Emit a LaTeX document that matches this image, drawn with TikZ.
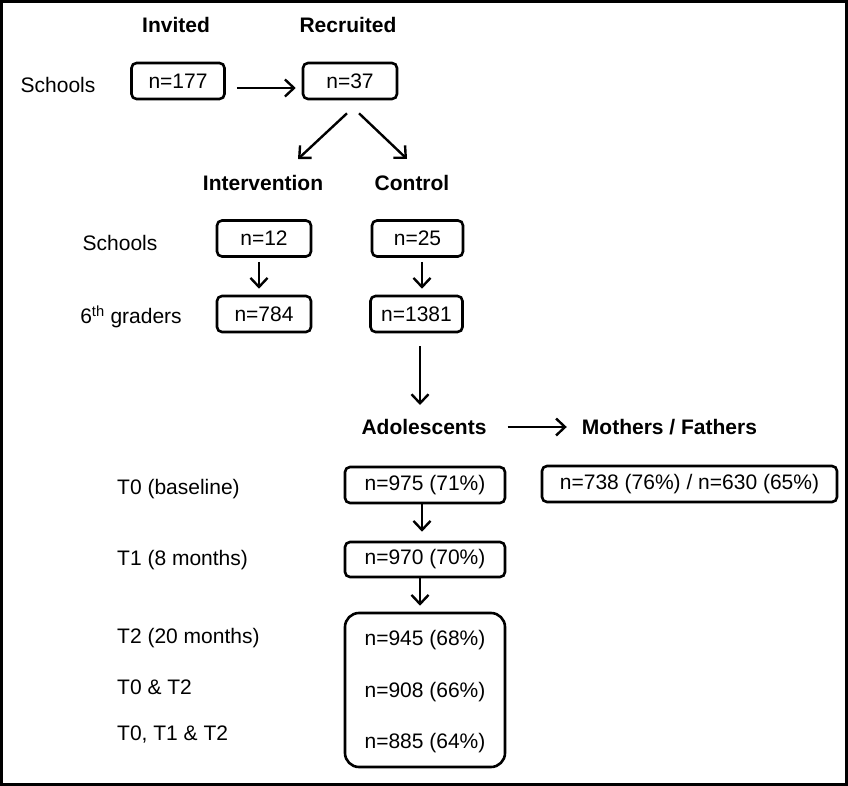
\documentclass[tikz,border=0pt]{standalone}
\usepackage{fontspec}
\setmainfont{Liberation Sans}
\usetikzlibrary{arrows.meta,calc}
\begin{document}
\begin{tikzpicture}[x=1pt,y=-1pt,
  every node/.style={font=\fontsize{21}{25}\selectfont, inner sep=0pt},
  head/.style={font=\fontsize{21}{25}\selectfont\bfseries},
  rowlabel/.style={anchor=west},
  box/.style={draw, line width=2.6pt, rounded corners=5pt, minimum height=36pt},
  arr/.style={line width=2.4pt, -{Straight Barb[length=9pt,width=17pt,line width=2.4pt]}}]
\useasboundingbox (0,0) rectangle (848,786);
\draw[line width=3pt] (1.5,1.5) rectangle (846.5,784.5);

% school recruitment
\node[head] (invited) at (176,25) {Invited};
\node[head] (recruited) at (348,25) {Recruited};
\node (schoolsA) at (58,85) {Schools};
\node[box, minimum width=93pt] (s177) at (178,81) {n=177};
\node[box, minimum width=94pt] (s37) at (350,81) {n=37};
\draw[arr] ($(s177.east)+(11,7)$) -- ($(s37.west)+(-6,7)$);

% allocation
\node[head] (intv) at (263,183) {Intervention};
\node[head] (ctrl) at (412,183) {Control};
\draw[arr] ($(s37.south)+(-3,13)$) -- ($(intv.center)+(35,-24)$);
\draw[arr] ($(s37.south)+(9,13)$) -- ($(ctrl.center)+(-5,-24)$);

\node (schoolsB) at (120,243) {Schools};
\node (graders) at (131,317) {6\textsuperscript{th} graders};
\node[box, minimum width=94pt] (n12) at (264,238.5) {n=12};
\node[box, minimum width=91pt] (n25) at (417.5,238.5) {n=25};
\node[box, minimum width=94pt] (n784) at (264,314) {n=784};
\node[box, minimum width=92pt] (n1381) at (416.5,314) {n=1381};
\draw[arr] ($(n12.south)+(-5,4)$) -- ($(n784.north)+(-5,-6)$);
\draw[arr] ($(n25.south)+(4.5,4)$) -- ($(n1381.north)+(5.5,-6)$);

% participants
\node[head] (adol) at (424,427) {Adolescents};
\node[head] (parents) at (669.5,427) {Mothers / Fathers};
\draw[arr] ($(n1381.south)+(3.5,13)$) -- ($(adol.center)+(-4,-22)$);
\draw[arr] ($(adol.east)+(21,0)$) -- ($(parents.west)+(-15,0)$);

\node[rowlabel] (t0) at (117,489) {T0 (baseline)};
\node[rowlabel] (t1) at (117,560) {T1 (8 months)};
\node[rowlabel] (t2) at (117,638) {T2 (20 months)};
\node[rowlabel] (t02) at (117,687) {T0 \& T2};
\node[rowlabel] (t012) at (117,735) {T0, T1 \& T2};

\node[box, minimum width=160pt] (n975) at (425,485) {n=975 (71\%)};
\node[box, minimum width=295pt] (npar) at (689.5,484) {n=738 (76\%) / n=630 (65\%)};
\node[box, minimum width=160pt, minimum height=35pt] (n970) at (425,559.5) {n=970 (70\%)};
\node[draw, line width=2.6pt, rounded corners=14pt, minimum width=160pt, minimum height=154pt] (tail) at (425,690) {};
\node (n945) at (425,640) {n=945 (68\%)};
\node (n908) at (425,692) {n=908 (66\%)};
\node (n885) at (425,743) {n=885 (64\%)};
\draw[arr] ($(n975.south)+(-3,0)$) -- ($(n970.north)+(-3,-9)$);
\draw[arr] ($(n970.south)+(-5,0)$) -- ($(tail.north)+(-5,-6)$);
\end{tikzpicture}
\end{document}
